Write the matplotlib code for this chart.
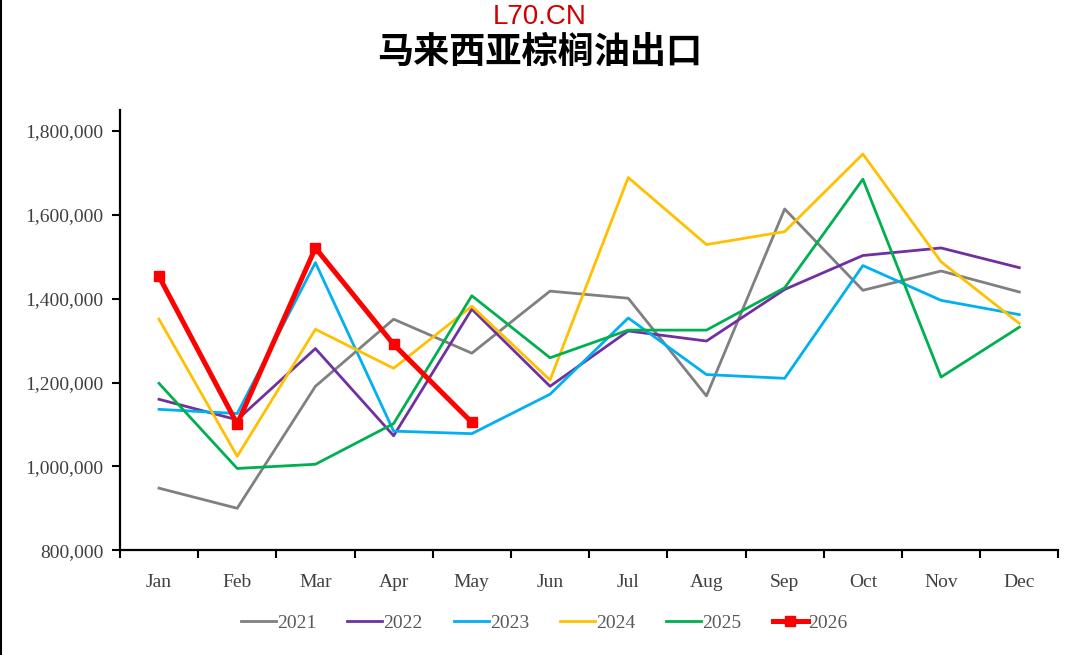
import matplotlib
matplotlib.use("Agg")
import matplotlib.pyplot as plt
from matplotlib.ticker import FuncFormatter, FixedLocator, NullFormatter
import numpy as np

# ── Data ─────────────────────────────────────────────────────────────────────
months = ["Jan", "Feb", "Mar", "Apr", "May", "Jun",
          "Jul", "Aug", "Sep", "Oct", "Nov", "Dec"]

exp_2021 = [948000, 900000, 1191000, 1351000, 1270000, 1418000,
            1401000, 1168000, 1614000, 1420000, 1466000, 1416000]
exp_2022 = [1160000, 1111000, 1281000, 1073000, 1375000, 1191000,
            1323000, 1299000, 1422000, 1503000, 1521000, 1474000]
exp_2023 = [1136000, 1126000, 1486000, 1084000, 1078000, 1172000,
            1354000, 1219000, 1210000, 1479000, 1396000, 1362000]
exp_2024 = [1351000, 1024000, 1327000, 1234000, 1382000, 1206000,
            1689000, 1529000, 1560000, 1745000, 1488000, 1341000]
exp_2025 = [1198000, 995000, 1005000, 1102000, 1407000, 1259000,
            1325000, 1325000, 1426000, 1685000, 1213000, 1332000]
exp_2026 = [1453000, 1101000, 1521000, 1291000, 1105000]

series = [
    ("2021", exp_2021, "#808080"),
    ("2022", exp_2022, "#7030A0"),
    ("2023", exp_2023, "#00B0F0"),
    ("2024", exp_2024, "#FFC000"),
    ("2025", exp_2025, "#00B050"),
]

# ── Figure ───────────────────────────────────────────────────────────────────
serif = ["Liberation Serif", "DejaVu Serif"]

fig = plt.figure(figsize=(10.8, 6.55), dpi=100)
ax = fig.add_axes([0.111, 0.160, 0.869, 0.672])

x = np.arange(len(months))
for label, vals, color in series:
    ax.plot(x[:len(vals)], vals, color=color, lw=2.0, label=label)
ax.plot(x[:len(exp_2026)], exp_2026, color="#FF0000", lw=3.6,
        marker="s", markersize=7, label="2026", zorder=5)

ax.set_xlim(-0.5, 11.5)
ax.set_ylim(800000, 1850000)
ax.set_yticks(np.arange(800000, 1800001, 200000))
ax.yaxis.set_major_formatter(FuncFormatter(lambda v, p: f"{int(v):,}"))

# ticks at category boundaries, labels at centers
ax.xaxis.set_major_locator(FixedLocator(np.arange(-0.5, 12, 1)))
ax.xaxis.set_major_formatter(NullFormatter())
ax.xaxis.set_minor_locator(FixedLocator(x))
ax.set_xticklabels(months, minor=True)
ax.tick_params(axis="x", which="minor", length=0, pad=17)
ax.tick_params(axis="x", which="major", length=6, width=1.5, direction="out")
ax.tick_params(axis="y", length=6, width=1.5, direction="out", pad=6)

for lbl in ax.get_xticklabels(minor=True) + ax.get_yticklabels():
    lbl.set_family(serif)
    lbl.set_fontsize(14)
    lbl.set_color("#404040")

ax.spines["top"].set_visible(False)
ax.spines["right"].set_visible(False)
ax.spines["left"].set_linewidth(1.6)
ax.spines["bottom"].set_linewidth(1.6)

handles, labels = ax.get_legend_handles_labels()
leg = fig.legend(handles, labels, loc="center", bbox_to_anchor=(0.504, 0.049),
                 ncol=6, frameon=False, handlelength=1.8, handletextpad=0.05,
                 columnspacing=1.6, prop={"family": serif, "size": 14})
for t in leg.get_texts():
    t.set_color("#595959")

# ── Title & watermark ───────────────────────────────────────────────────────
fig.text(0.5, 0.974, "L70.CN", ha="center", va="center", fontsize=20,
         color="#D00000", family="Liberation Sans")
fig.text(0.5, 0.920, "马来西亚棕榈油出口", ha="center", va="center",
         fontsize=26, fontweight="bold", color="black",
         family=["Noto Sans CJK SC", "DejaVu Sans"])

# left border line of the frame
fig.add_artist(plt.Line2D([0.001, 0.001], [0, 1], color="black", lw=1.5,
                          transform=fig.transFigure))

plt.savefig("out.png", dpi=100)
plt.close()
